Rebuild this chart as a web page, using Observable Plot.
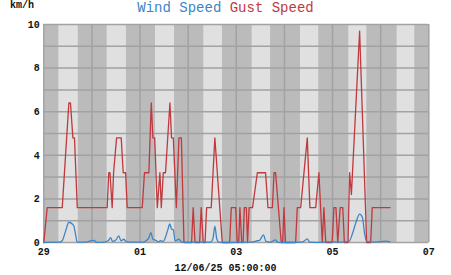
<!DOCTYPE html>
<html>
<head>
<meta charset="utf-8">
<script src="https://cdn.jsdelivr.net/npm/d3@7"></script>
<script src="https://cdn.jsdelivr.net/npm/@observablehq/plot@0.6"></script>
<style>
  html, body { margin: 0; padding: 0; background: #fff; }
  #wrap { position: relative; width: 451px; height: 275px; overflow: hidden; }
  #title { position: absolute; left: 0; top: 1px; width: 451px; text-align: center;
           font-family: "Liberation Mono", "DejaVu Sans Mono", monospace; font-size: 14px;
           line-height: 15px; white-space: pre; }
  #unit { position: absolute; left: 10px; top: 0px; font-family: "Liberation Mono", monospace;
          font-weight: bold; font-size: 10px; line-height: 11px; color: #111; }
  #caption { position: absolute; left: 0; top: 263px; width: 451px; text-align: center;
             font-family: "Liberation Mono", monospace; font-weight: bold; font-size: 10px;
             line-height: 11px; color: #111; white-space: pre; }
  svg { position: absolute; left: 0; top: 0; }
</style>
</head>
<body>
<div id="wrap">
  <div id="unit">km/h</div>
  <div id="title"><span style="color:#3d85c6">Wind Speed</span> <span style="color:#c0393e">Gust Speed</span></div>
  <div id="caption">12/06/25 05:00:00</div>
</div>
<script>
// ---- data (hours after 2025-11-29 00:00 UTC) ----
const startDate = "2025-11-29";
const endDate = "2025-12-07";
const captionText = "12/06/25 05:00:00";

const gustHours = [0,1.7,9.2,12.5,13.3,14.5,15.3,16.7,31.6,32.4,33.0,34.1,34.8,36.3,38.6,39.6,40.8,41.6,
  49.1,50.2,52.4,53.6,54.4,55.3,56.6,57.9,58.6,59.6,60.7,62.9,63.7,64.6,66.1,67.4,68.6,69.9,
  73.7,74.5,75.4,77.7,78.5,79.5,80.4,81.2,83.5,85.3,89.0,92.7,93.5,95.7,96.5,97.2,97.8,98.7,99.4,
  100.0,101.0,101.6,102.4,104.1,106.5,110.6,111.8,114.0,114.8,115.6,118.4,119.1,119.8,120.5,
  125.6,126.4,128.1,131.4,132.7,135.6,137.2,138.9,139.7,140.6,143.8,144.7,145.7,146.6,147.8,149.1,149.9,
  151.7,152.5,153.4,157.5,161.0,163.0,163.8,172.7];
const gustValues = [0,1.6,1.6,6.4,6.4,4.8,4.8,1.6,1.6,3.2,3.2,1.6,3.2,4.8,4.8,3.2,3.2,1.6,
  1.6,3.2,3.2,6.4,4.8,4.8,1.6,3.2,1.6,3.2,3.2,6.4,4.8,4.8,1.6,4.8,4.8,0,
  0,1.6,0,0,1.6,0,0,1.6,1.6,4.8,0,0,1.6,1.6,0,0,1.6,0,0,
  1.6,1.6,0,1.6,1.6,3.2,3.2,1.6,1.6,3.2,3.2,0,0,1.6,0,
  0,1.6,1.6,4.8,1.6,1.6,3.2,0,1.6,0,0,1.6,1.6,0,1.6,1.6,0,
  0,3.2,2.2,9.7,0,0,1.6,1.6];

const windHours = [0,3.3,5.8,8.3,9.3,10.8,12.5,14.2,15.0,15.8,16.6,20.8,25.0,26.3,30.3,32.3,33.3,34.3,35.8,37.4,38.5,39.9,41.0,42.3,
  49.8,51.3,52.3,53.4,54.4,55.8,57.2,58.2,59.7,60.7,61.9,62.8,63.7,64.6,65.5,67.4,68.7,73.2,78.2,83.2,84.4,85.3,86.3,87.4,93.2,
  103.2,106.5,107.6,109.5,110.8,113.1,115.6,116.6,123.1,128.1,129.6,131.4,132.6,138.0,140.6,148.0,152.2,153.9,155.7,157.5,158.9,160.0,161.0,165.5,170.6,172.7];
const windValues = [0,0.02,0.01,0.03,0.1,0.5,0.93,0.85,0.75,0.4,0.02,0.02,0.1,0.01,0.02,0.1,0.22,0.05,0.1,0.3,0.08,0.15,0.05,0.02,
  0.02,0.1,0.2,0.45,0.15,0.1,0.03,0.08,0.05,0.25,0.6,0.85,0.62,0.58,0.08,0.15,0.02,0.01,0.02,0.02,0.2,0.75,0.15,0.01,0,
  0.02,0.08,0.1,0.35,0.05,0.02,0.12,0.01,0,0.02,0.05,0.17,0.02,0.01,0.03,0.02,0.05,0.4,0.93,1.3,1.15,0.4,0.05,0.02,0.06,0.03];

// daylight bands: day index after start, sunrise / sunset hour of that day
const bandDays = [0,1,2,3,4,5,6,7];
const sunriseHours = [7.5,7.6,7.7,7.8,7.9,8.0,8.1,8.2];
const sunsetHours  = [17.2,17.2,17.2,17.1,17.1,17.1,17.1,17.0];

const yTickValues = [0,2,4,6,8,10];
const xTickDates = ["2025-11-29","2025-12-01","2025-12-03","2025-12-05","2025-12-07"];

// ---- build ----
const t0 = new Date(startDate + "T00:00:00Z").getTime();
const H = 3600e3;
const toDate = h => new Date(t0 + h * H);
const gust = gustHours.map((h, i) => ({date: toDate(h), value: gustValues[i]}));
const wind = windHours.map((h, i) => ({date: toDate(h), value: windValues[i]}));
const bands = bandDays.map((d, i) => ({rise: toDate(d * 24 + sunriseHours[i]), set: toDate(d * 24 + sunsetHours[i])}));
const xDomain = [new Date(startDate + "T00:00:00Z"), new Date(endDate + "T00:00:00Z")];
const dayLines = d3.utcDay.range(xDomain[0], d3.utcDay.offset(xDomain[1], 1));
const xTicks = xTickDates.map(s => new Date(s + "T00:00:00Z"));

const chart = Plot.plot({
  width: 451,
  height: 275,
  marginLeft: 43.3,
  marginRight: 22.7,
  marginTop: 24,
  marginBottom: 33,
  style: {fontFamily: "'Liberation Mono', 'DejaVu Sans Mono', monospace", fontSize: "10px", fontWeight: "bold", color: "#111", background: "transparent", overflow: "visible"},
  x: {type: "utc", domain: xDomain, ticks: xTicks, tickFormat: d3.utcFormat("%d"), tickSize: 0, tickPadding: 5.5, label: null},
  y: {domain: [0, 10], ticks: yTickValues, tickSize: 0, tickPadding: 4, label: null},
  marks: [
    Plot.frame({fill: "#bbbbbb", stroke: null}),
    Plot.rect(bands, {x1: "rise", x2: "set", fill: "#e0e0e0"}),
    Plot.gridY(d3.range(0, 11), {stroke: "#a2a2a2", strokeOpacity: 1, strokeWidth: 1.5}),
    Plot.gridX(dayLines, {stroke: "#a2a2a2", strokeOpacity: 1, strokeWidth: 1.5}),
    Plot.lineY(gust, {x: "date", y: "value", stroke: "#c0393e", strokeWidth: 1.3}),
    Plot.lineY(wind, {x: "date", y: "value", stroke: "#3d85c6", strokeWidth: 1.3, curve: "monotone-x"})
  ]
});
document.getElementById("wrap").prepend(chart);
document.getElementById("caption").textContent = captionText;
</script>
</body>
</html>
